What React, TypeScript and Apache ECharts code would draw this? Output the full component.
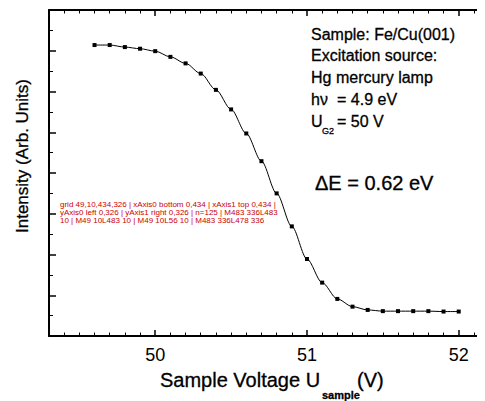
import React, { useEffect, useRef } from "react";
import * as echarts from "echarts";

const voltages = [49.6, 49.7, 49.8, 49.9, 50.0, 50.1, 50.2, 50.3, 50.4, 50.5, 50.6, 50.7, 50.8, 50.9, 51.0, 51.1, 51.2, 51.3, 51.4, 51.5, 51.6, 51.7, 51.8, 51.9, 52.0];
const intensity = [7.14, 7.14, 7.09, 7.05, 6.99, 6.85, 6.69, 6.44, 6.04, 5.56, 4.97, 4.29, 3.5, 2.69, 1.89, 1.31, 0.91, 0.72, 0.64, 0.61, 0.61, 0.61, 0.61, 0.6, 0.6];
const xMin = 49.3;
const xMax = 52.16;
const yMin = 0;
const yMax = 8;

const annotationLines = ["Sample: Fe/Cu(001)", "Excitation source:", "Hg mercury lamp"];

const FONT = "'Liberation Sans', Arial, Helvetica, sans-serif";
const INK = "#000";

function xAxisDef(pos: "top" | "bottom", labels: boolean) {
  return {
    type: "value",
    gridIndex: 0,
    position: pos,
    min: xMin,
    max: xMax,
    splitNumber: 3,
    minInterval: 1,
    maxInterval: 1,
    splitLine: { show: false },
    axisLine: { show: true, onZero: false, lineStyle: { color: "#000", width: 2 } },
    axisTick: { show: true, inside: true, length: 6, lineStyle: { color: "#000", width: 1.5 } },
    minorTick: { show: true, splitNumber: 10, length: 3.5, lineStyle: { color: "#000", width: 1 } },
    axisLabel: labels
      ? {
          show: true,
          fontSize: 18,
          fontFamily: FONT,
          color: INK,
          margin: 10,
          showMinLabel: false,
          showMaxLabel: false,
          formatter: (v: number) => (Math.abs(v - Math.round(v)) < 1e-6 ? String(Math.round(v)) : ""),
        }
      : { show: false },
  };
}

function yAxisDef(pos: "left" | "right", major: number, minor: number) {
  return {
    type: "value",
    gridIndex: 0,
    position: pos,
    min: yMin,
    max: yMax,
    interval: 1,
    splitLine: { show: false },
    axisLine: { show: true, onZero: false, lineStyle: { color: "#000", width: 2 } },
    axisLabel: { show: false },
    axisTick: { show: true, inside: true, length: major, lineStyle: { color: "#000", width: 1.5 } },
    minorTick: { show: true, splitNumber: 2, length: minor, lineStyle: { color: "#000", width: 1 } },
  };
}

export default function App() {
  const ref = useRef<HTMLDivElement>(null);
  useEffect(() => {
    if (!ref.current) return;
    const chart = echarts.init(ref.current, undefined, { renderer: "svg" });
    chart.setOption({
      animation: false,
      backgroundColor: "#fff",
      grid: { left: 49, right: 2, top: 10, bottom: 65 },
      xAxis: [xAxisDef("bottom", true), xAxisDef("top", false)],
      yAxis: [yAxisDef("left", 7, 4), yAxisDef("right", 5, 3)],
      series: [
        {
          type: "line",
          xAxisIndex: 0,
          yAxisIndex: 0,
          data: voltages.map((v, i) => [v, intensity[i]]),
          smooth: 0.3,
          smoothMonotone: "x",
          symbol: "rect",
          symbolSize: 4,
          showAllSymbol: true,
          itemStyle: { color: "#000" },
          lineStyle: { color: "#000", width: 1 },
        },
      ],
    });

    const mk = (text: string, x: number, y: number, size: number, extra: any = {}) => ({
      type: "text",
      x,
      y,
      style: {
        text,
        fontSize: size,
        fontFamily: FONT,
        fill: INK,
        stroke: INK,
        lineWidth: 0.3,
        verticalAlign: "middle",
        align: "left",
        ...extra,
      },
    });
    const texts: any[] = annotationLines.map((t, i) => mk(t, 311, 34 + i * 21.7, 16));
    texts.push(mk("hν", 311, 99, 16));
    texts.push(mk("= 4.9 eV", 337, 99, 16));
    texts.push(mk("U", 311, 121, 16));
    texts.push(mk("G2", 322, 130.5, 9));
    texts.push(mk("= 50 V", 337, 121, 16));
    texts.push(mk("ΔE = 0.62 eV", 315, 183, 20));
    texts.push(mk("Sample Voltage U", 160, 380, 20));
    texts.push(mk("sample", 322, 395, 11, { fontWeight: "bold" }));
    texts.push(mk("(V)", 357, 380, 20));
    texts.push({
      type: "text",
      x: 22,
      y: 156,
      rotation: Math.PI / 2,
      style: {
        text: "Intensity (Arb. Units)",
        fontSize: 17,
        fontFamily: FONT,
        fill: INK,
        stroke: INK,
        lineWidth: 0.3,
        verticalAlign: "middle",
        align: "center",
      },
    });

    const info: string[] = [];
    try {
      const m = (chart as any).getModel();
      const g = m.getComponent("grid", 0).coordinateSystem.getRect();
      info.push("grid " + [g.x, g.y, g.width, g.height].map((n: number) => n.toFixed(0)).join(","));
      ["xAxis", "yAxis"].forEach((t) => {
        [0, 1].forEach((i) => {
          const c = m.getComponent(t, i);
          const a = c && c.axis;
          info.push(t + i + " " + (a && a.position) + " " + (a && a.getExtent().map((n: number) => n.toFixed(0)).join(",")));
        });
      });
      (chart as any).getZr().flush();
      const svg = ref.current.querySelector("svg");
      const paths = svg ? Array.from(svg.querySelectorAll("path")) : [];
      const ds = paths.map((p) => p.getAttribute("d") || "");
      info.push("n=" + ds.length);
      ds.filter((d) => / 10L| 1[01]\.?\d*L|M48[0-9]/.test(d) && d.length < 40).slice(0, 4).forEach((d) => info.push(d));
    } catch (e: any) {
      info.push("err " + e.message);
    }
    texts.push({
      type: "text",
      x: 60,
      y: 200,
      style: { text: info.join(" | "), fontSize: 8, fontFamily: FONT, fill: "#c00", width: 220, overflow: "break" },
    });
    chart.setOption({ graphic: texts });
    return () => chart.dispose();
  }, []);
  return <div ref={ref} style={{ width: 485, height: 401, margin: "-8px 0 0 -8px" }} />;
}
